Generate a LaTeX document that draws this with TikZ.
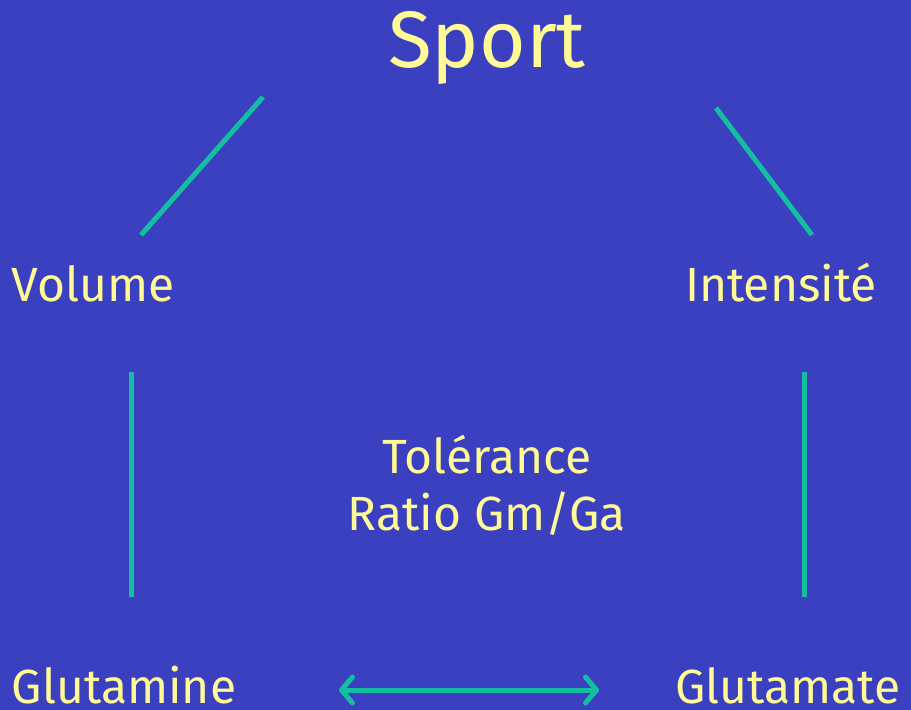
\documentclass[tikz,border=0pt]{standalone}
\usepackage{fontspec}
\setmainfont{Fira Sans}
\usetikzlibrary{arrows.meta}
\definecolor{bg}{RGB}{58,64,192}
\definecolor{txt}{RGB}{255,250,150}
\definecolor{ln}{RGB}{20,190,160}
\begin{document}
\begin{tikzpicture}[x=1pt,y=-1pt,
  lbl/.style={text=txt,font=\fontsize{48}{58}\selectfont,inner sep=0pt,anchor=base},
  conn/.style={draw=ln,line width=5pt},
  >={Straight Barb[length=11pt,width=26pt,round]}]
\fill[bg] (0,0) rectangle (911,710);
\useasboundingbox (0,0) rectangle (911,710);
\node[lbl,font=\fontsize{80}{96}\selectfont] (sport) at (487,67) {Sport};
\node[lbl] (volume) at (93,301) {Volume};
\node[lbl] (intens) at (781,301) {Intensité};
\node[lbl] (tol) at (487,473) {Tolérance};
\node[lbl] (ratio) at (487,530) {Ratio Gm/Ga};
\node[lbl] (gm) at (124,703) {Glutamine};
\node[lbl] (ga) at (788,703) {Glutamate};
\coordinate (a1) at (263,97); \coordinate (a2) at (141,235);
\coordinate (b1) at (716,108); \coordinate (b2) at (812,235);
\coordinate (c1) at (131,372); \coordinate (c2) at (131,597);
\coordinate (d1) at (804,372); \coordinate (d2) at (804,597);
\coordinate (e1) at (339,690); \coordinate (e2) at (599,690);
\draw[conn] (a1) -- (a2);
\draw[conn] (b1) -- (b2);
\draw[conn] (c1) -- (c2);
\draw[conn] (d1) -- (d2);
\draw[conn,<->] (e1) -- (e2);
\end{tikzpicture}
\end{document}
